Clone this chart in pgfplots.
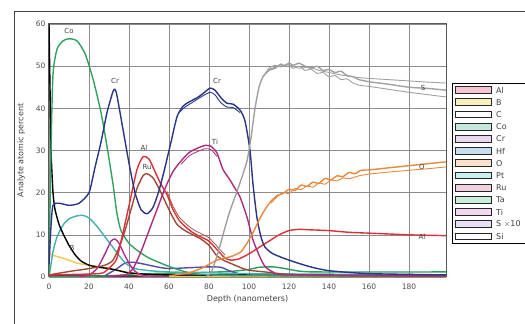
\documentclass[border=0pt]{standalone}
\usepackage{fontspec}
\setmainfont{DejaVu Sans}
\usepackage{pgfplots}
\pgfplotsset{compat=1.18}
\definecolor{cCo}{HTML}{34A060}
\definecolor{cCr}{HTML}{2A3586}
\definecolor{cAl}{HTML}{DC3038}
\definecolor{cRu}{HTML}{A04834}
\definecolor{cTi}{HTML}{AC2C7C}
\definecolor{cPt}{HTML}{40B0B0}
\definecolor{cB}{HTML}{F0C850}
\definecolor{cS}{HTML}{A0A0A0}
\definecolor{cO}{HTML}{E8883C}
\definecolor{cTa}{HTML}{2C9C5C}
\definecolor{cSi}{HTML}{6A2850}
\definecolor{cHf}{HTML}{5A4AA0}
\definecolor{cBump}{HTML}{A83090}
\definecolor{txt}{HTML}{404040}
\begin{document}
\begin{tikzpicture}[x=1pt,y=1pt]
\draw[color=black!75,line width=0.8pt] (14,313) rectangle (560,-40);
\begin{axis}[at={(49pt,47pt)},anchor=south west,scale only axis,
 width=397pt,height=253pt,xmin=0,xmax=198.5,ymin=0,ymax=60,
 xtick={0,20,...,180},ytick={0,10,...,60},
 grid=major,major grid style={color=black!45,line width=0.6pt},
 axis line style={color=black!65,line width=1pt},
 major tick length=0pt,
 tick label style={font=\fontsize{7.5}{8}\selectfont,text=black!70},
 xticklabel style={yshift=-3pt},
 /pgf/number format/assume math mode=true,
 xlabel={Depth (nanometers)},ylabel={Analyte atomic percent},
 label style={font=\fontsize{8}{9}\selectfont,text=black!75},
 xlabel style={yshift=1pt},ylabel style={yshift=4pt},
 every axis plot/.append style={line width=1.4pt,no markers},
 clip=true]
% Si bottom
\addplot[cSi,line width=1.6pt] coordinates {(0,0.2)(198.5,0.2)};
% Ta
\addplot[cTa,smooth,tension=0.4] coordinates {(0,0)(30,0.3)(50,0.8)(70,1)(90,1.3)(100,1.8)(105,2.3)(112,2.4)(118,2)(125,1.4)(135,1.2)(198.5,1.2)};
% Hf-like purple low
\addplot[cHf,smooth,tension=0.4] coordinates {(28,0.3)(34,2)(38,3.3)(42,3.5)(46,3.2)(50,2.8)(55,2.3)(60,2)(70,2.2)(80,2.4)(86,2.3)(90,1.5)(95,0.8)(105,0.4)(198.5,0.3)};
% B
\addplot[cB,smooth,tension=0.4] coordinates {(0,5.5)(3,5)(6,4.6)(10,4)(14,3.3)(20,2.8)(26,2.4)(32,1.8)(38,1.2)(45,0.5)(60,0.2)(198.5,0.1)};
% Pt teal
\addplot[cPt,smooth,tension=0.4] coordinates {(0,0)(1,3)(2,6)(4,9.5)(7,12.3)(10,13.8)(14,14.5)(17,14.6)(20,14)(24,12)(28,9.5)(32,7)(36,4.5)(39,3)(43,2)(50,1.5)(60,1.2)(80,1)(100,0.8)(198.5,0.5)};
% C black
\addplot[black,smooth,tension=0.3] coordinates {(0,60)(0.5,45)(1,30)(2,20)(3,16)(5,12.5)(7,10.3)(10,7.5)(13,5.3)(16,3.8)(20,2.8)(25,2.3)(30,2)(35,1.5)(40,1)(60,0.5)(198.5,0.3)};
% bump
\addplot[cBump,smooth,tension=0.4] coordinates {(15,0)(20,0.5)(24,2)(28,5.5)(31,8.5)(33,9)(35,8)(38,5)(41,2.5)(44,1)(48,0.3)(60,0.1)};
% Co
\addplot[cCo,smooth,tension=0.4] coordinates {(0,0)(1,30)(2,48)(4,54)(7,56)(10,56.5)(14,56)(18,53)(22,47)(26,39)(29,31)(32,22)(34,15)(36,11)(40,8)(45,6)(50,4.5)(60,2.5)(70,1)(80,0.5)(100,0.3)(198.5,0.2)};
% Ru
\addplot[cRu,smooth,tension=0.4] coordinates {(0,0.5)(10,1.3)(20,2)(28,2.8)(32,4)(35,7)(38,11)(41,16)(44,21)(47,24)(49,24.5)(52,23.5)(55,21)(58,18)(61,15)(64,12.5)(68,11)(72,10)(76,9)(80,7.5)(84,5)(88,3.8)(92,3)(96,2.2)(100,1.6)(110,1.1)(120,0.6)(140,0.3)(198.5,0.2)};
% Al
\addplot[cAl,smooth,tension=0.4] coordinates {(0,0.5)(25,0.8)(29,1.7)(32,3)(34,4.5)(37,10.5)(40.5,18)(44,25.5)(47,28.5)(50,28)(53,25)(56,22)(59,19.5)(62,16)(65,13.5)(68,12)(72,10.5)(76,9.5)(80,8.5)(84,6.5)(88,4.5)(91,4)(95,4.3)(100,5.5)(105,7)(110,8.5)(115,10)(120,11)(125,11.3)(130,11.2)(140,11)(150,10.6)(160,10.4)(170,10.2)(180,10)(190,9.9)(198.5,9.8)};
\addplot[cRu,line width=0.7pt,smooth,tension=0.4] coordinates {(59,20.3)(62,16.8)(65,14.3)(68,12.8)(72,11.3)(76,10.3)(80,9.3)(84,7.3)(88,5.2)};
% Ti
\addplot[cTi,smooth,tension=0.4] coordinates {(30,0.2)(38,0.5)(42,2)(46,6)(50,11)(54,16)(58,21)(62,25)(66,27.5)(70,29.5)(74,30.5)(78,31.2)(81,31)(84,29.4)(87,25.5)(90.5,23)(93,21)(95.5,19)(99,14.2)(102,8.8)(105.5,4.7)(108,2.5)(112,1.2)(120,0.5)(198.5,0.3)};
\addplot[cTi,line width=0.8pt,smooth,tension=0.4] coordinates {(66,26.7)(70,28.7)(74,29.7)(78,30.4)(81,30.2)(84,28.6)};
% Cr
\addplot[cCr,smooth,tension=0.4] coordinates {(0,3)(1,12)(2,17)(5,17.5)(10,17)(15,17.5)(20,20)(23,26)(26,32)(29,39)(32,44)(33,44.5)(34,43)(37,35)(40,27)(43,20)(46,16)(49,15)(52,16.5)(55,20.5)(58,26)(61,32)(64,38)(67,40.5)(70,41.5)(74,42.5)(77,43.5)(80.5,44.8)(83,44.3)(86,42.5)(89,41.2)(92,41)(95.5,39.6)(98,37)(100.5,30)(102,22)(104,14)(106,9.5)(108,7.1)(112,5.5)(120,4)(130,2.5)(140,1.5)(160,0.8)(198.5,0.5)};
\addplot[cCr,line width=0.9pt,smooth,tension=0.4] coordinates {(65,39)(68,40.3)(72,41.5)(76,42.7)(80.5,43.8)(83,43.2)(86,41.3)(89,40.3)(92,40.2)(95.5,39)};
% S x10
\addplot[cS,smooth,tension=0.3] coordinates {(78,0)(81,1)(84,5)(87,10)(90,15)(93,19)(96,23)(99,27.5)(101,33)(103,40)(105,45)(107,47.5)(110,49)(113,49.5)(116,50.5)(118,50)(120,50.8)(122,50.2)(125,50.7)(128,50)(131,49.5)(134,50)(137,49)(140,49.2)(143,48.5)(146,48.8)(149,47.8)(152,47.5)(155,46.8)(158,46.5)(160,46.3)(170,45.7)(180,45)(190,44.7)(198.5,44.3)};
\addplot[cS,line width=0.9pt,smooth,tension=0.3] coordinates {(107,47.5)(110,49.5)(113,50.2)(116,49.8)(119,50.5)(122,49.5)(125,50)(128,49)(131,49.3)(134,48.3)(137,48.5)(140,47.5)(143,47.8)(146,46.8)(149,47)(152,46)(155,45.5)(158,45.3)(160,45.2)(170,44.5)(180,43.8)(190,43.2)(198.5,42.7)};
\addplot[cS,line width=0.9pt,smooth,tension=0.3] coordinates {(107,47.5)(110,49.2)(115,50)(120,50.3)(125,49.5)(130,49.8)(135,49)(140,48.5)(145,48)(150,47.6)(157,47.2)(170,46.8)(180,46.5)(190,46.2)(198.5,46)};
% O
\addplot[cO,smooth,tension=0.3] coordinates {(60,0.3)(70,1)(76,2)(80,3)(84,4)(88,4.5)(92,5)(96,6)(99,8)(102,10.5)(105,13.5)(108,16)(111,18)(114,19.3)(117,19.8)(120,20.8)(123,20.5)(126,21.8)(129,21.5)(132,22.5)(135,22.2)(138,23.4)(141,23)(144,24)(147,23.8)(150,24.8)(153,24.5)(156,25.3)(160,25.4)(170,25.9)(180,26.4)(190,26.9)(198.5,27.3)};
\addplot[cO,line width=0.9pt,smooth,tension=0.3] coordinates {(111,17.5)(114,19)(117,20)(120,19.8)(123,21)(126,20.7)(129,21.6)(132,21.3)(135,22.3)(138,22)(141,23)(144,22.8)(147,23.5)(150,23.3)(155,24)(160,24.4)(170,24.9)(180,25.3)(190,25.7)(198.5,26.1)};
% curve labels
\begin{scope}[every node/.style={font=\fontsize{7}{8}\selectfont,text=txt,inner sep=0.5pt}]
\node at (axis cs:10,58.3) {Co};
\node at (axis cs:33,46.6) {Cr};
\node at (axis cs:47.5,30.6) {Al};
\node at (axis cs:49,26.2) {Ru};
\node at (axis cs:84,46.6) {Cr};
\node at (axis cs:83,32) {Ti};
\node at (axis cs:11.5,7) {B};
\node at (axis cs:187,44.8) {S};
\node at (axis cs:186.5,26.2) {O};
\node at (axis cs:186.5,9.6) {Al};
\end{scope}
\end{axis}
% legend
\draw[black,line width=0.8pt,fill=white] (452,241) rectangle (560,81);
\foreach \yc/\lab/\fc in {90/Al/F6C6D2,102.2/B/F8EFC0,114.4/C/FFFFFF,126.6/Co/C4E8DE,138.8/Cr/EAD8F0,151/Hf/C6DEEE,163.2/O/FBE0CC,175.4/Pt/C8F0F0,187.6/Ru/F0D0DC,199.8/Ta/C6EEDA,212/Ti/F6D6F0,224.2/S $\times$10/E6DEF4,236.4/Si/FFFFFF}{
  \definecolor{tmpc}{HTML}{\fc}
  \draw[black!85,line width=0.9pt,fill=tmpc] (455,{324-\yc-3.4}) rectangle (491,{324-\yc+3.4});
  \node[anchor=west,font=\fontsize{8}{9}\selectfont,text=txt,inner sep=0pt] at (496,{324-\yc}) {\lab};
}
\pgfresetboundingbox
\useasboundingbox (0,0) rectangle (525,324);
\end{tikzpicture}
\end{document}
